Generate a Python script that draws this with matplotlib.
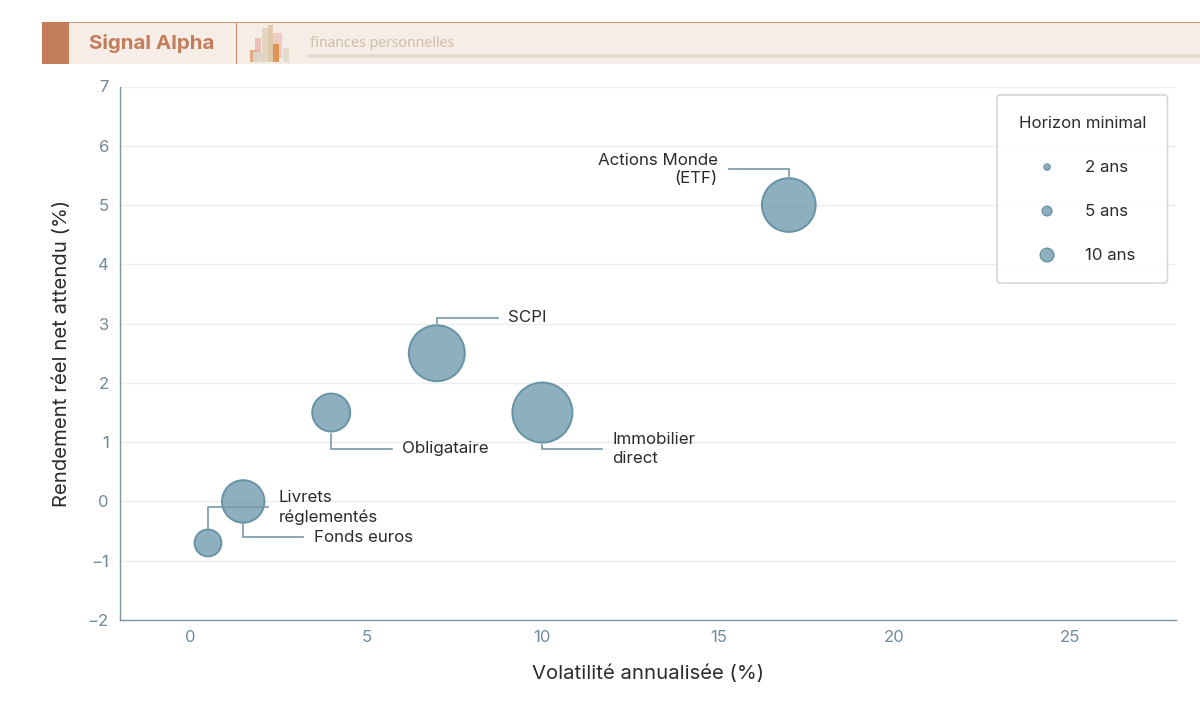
"""Rendement réel et volatilité des placements, taille des bulles selon l'horizon minimal"""

import matplotlib
matplotlib.use("Agg")
import matplotlib.pyplot as plt
from matplotlib.patches import FancyBboxPatch, Rectangle
from matplotlib.transforms import IdentityTransform

W, H = 1200, 721

# donnees
names = ["Livrets\nréglementés", "Fonds euros", "Obligataire", "SCPI", "Immobilier\ndirect", "Actions Monde\n(ETF)"]
volatility = [0.5, 1.5, 4, 7, 10, 17]
real_return = [-0.7, 0, 1.5, 2.5, 1.5, 5]
horizon = [2, 5, 4, 8.7, 10, 8]
legend_horizons = [2, 5, 10]
legend_labels = ["2 ans", "5 ans", "10 ans"]
x_ticks = [0, 5, 10, 15, 20, 25]
y_ticks = [-2, -1, 0, 1, 2, 3, 4, 5, 6, 7]

# coude des traits de rappel (decalages en pixels depuis le centre de la bulle)
leaders = [
    [(0, 13), (0, 36), (60, 36)],
    [(0, -22), (0, -36), (60, -36)],
    [(0, -21), (0, -36), (61, -36)],
    [(0, 30), (0, 35), (61, 35)],
    [(0, -32), (0, -36), (60, -36)],
    [(0, 29), (0, 36), (-60, 36)],
]
label_offsets = [(71, 35.5), (71, -36), (71, -36), (71, 36), (70, -36.5), (-71, 35.5)]

BLUE = "#5f8fa3"
EDGE = "#6793a6"
TICK = "#6f8b9c"
AXIS = "#7d94a3"
TEXT = "#2b2b2b"
FONT = ["Inter", "DejaVu Sans"]

plt.rcParams["font.family"] = FONT


def px_rect(fig, x0, y0, x1, y1, **kw):
    """rectangle en pixels de l'image (y vers le bas)"""
    fig.add_artist(Rectangle((x0 / W, 1 - y1 / H), (x1 - x0) / W, (y1 - y0) / H,
                             transform=fig.transFigure, lw=0, **kw))


def draw_header(fig):
    px_rect(fig, 42, 22, 1200, 64, color="#f7ede7")
    px_rect(fig, 42, 21.5, 1200, 22.5, color="#d39a80")
    px_rect(fig, 42, 22, 68.5, 64, color="#c47d5c")
    px_rect(fig, 236, 22, 236.8, 64, color="#cf8a6c")
    px_rect(fig, 307, 53.5, 1200, 57.5, color="#e9dacb")

    # petit logo en barres
    bars = [
        (250, 50, 258, 62, "#e2a27c", 0.9),
        (255, 38, 261, 56, "#e6aca6", 0.7),
        (253, 52, 262, 62, "#ddd8cc", 0.9),
        (262, 28, 268, 62, "#e3d5c1", 1.0),
        (268, 25, 273, 62, "#dcc6a4", 0.9),
        (273, 33, 282, 58, "#eab5ae", 0.6),
        (273, 44, 279, 62, "#dc8b3e", 0.85),
        (283, 48, 289, 62, "#e4dccd", 1.0),
    ]
    for x0, y0, x1, y1, c, a in bars:
        px_rect(fig, x0, y0, x1, y1, color=c, alpha=a)

    fig.text(89 / W, 1 - 43.5 / H, "Signal Alpha", color="#c47d5c", fontsize=14.8,
             fontweight="bold", family=FONT, va="center", ha="left")
    fig.text(310 / W, 1 - 43 / H, "finances personnelles", color="#cfc0a8", fontsize=11,
             family=["Lato", "DejaVu Sans"], va="center", ha="left")


def draw_legend(fig, ax):
    box = FancyBboxPatch((997, H - 283), 170.5, 188, boxstyle="round,pad=0,rounding_size=3",
                         transform=IdentityTransform(), fc="white", ec="#cfd5da", lw=1.2,
                         alpha=0.93, zorder=6)
    ax.add_artist(box)
    ax.text(1082.5, H - 123, "Horizon minimal", transform=IdentityTransform(), ha="center", va="center",
            fontsize=12.1, color=TEXT, zorder=7)
    for i, (h, lab) in enumerate(zip(legend_horizons, legend_labels)):
        y = H - (167 + 44 * i)
        ax.scatter([1047], [y], s=h * 9.5, transform=IdentityTransform(), color=BLUE, alpha=0.7,
                   linewidths=0, zorder=7)
        ax.scatter([1047], [y], s=h * 9.5, transform=IdentityTransform(), facecolors="none",
                   edgecolors=EDGE, linewidths=1, zorder=7)
        ax.text(1085, y, lab, transform=IdentityTransform(), va="center", ha="left",
                fontsize=12.1, color=TEXT, zorder=7)


fig = plt.figure(figsize=(W / 100, H / 100), dpi=100, facecolor="white")
ax = fig.add_axes([120 / W, 1 - 620 / H, (1176 - 120) / W, (620 - 86.5) / H])
ax.set_xlim(-2, 28)
ax.set_ylim(-2, 7)

ax.set_axisbelow(True)
ax.grid(axis="y", color="#eceef0", lw=1)
for side in ["top", "right"]:
    ax.spines[side].set_visible(False)
for side in ["left", "bottom"]:
    ax.spines[side].set_color(AXIS)
    ax.spines[side].set_linewidth(1)

ax.set_xticks(x_ticks)
ax.set_yticks(y_ticks)
ax.set_yticklabels([str(v).replace("-", "\u2212") for v in y_ticks])
ax.tick_params(length=0, labelsize=12, labelcolor=TICK)
ax.tick_params(axis="y", pad=8)
ax.tick_params(axis="x", pad=7)

ax.set_xlabel("Volatilité annualisée (%)", fontsize=14.6, color=TEXT, labelpad=14.5)
ax.set_ylabel("Rendement réel net attendu (%)", fontsize=14.6, color=TEXT, labelpad=12)

sizes = [h * 187 for h in horizon]
ax.scatter(volatility, real_return, s=sizes, color=BLUE, alpha=0.7, linewidths=0, zorder=3)
ax.scatter(volatility, real_return, s=sizes, facecolors="none", edgecolors=EDGE, linewidths=1.4, zorder=3)

# traits de rappel et libelles
for i, name in enumerate(names):
    cx, cy = ax.transData.transform((volatility[i], real_return[i]))
    xs = [cx + p[0] for p in leaders[i]]
    ys = [cy + p[1] for p in leaders[i]]
    ax.plot(xs, ys, transform=IdentityTransform(), color="#7898a7", lw=1.2, zorder=4,
            solid_joinstyle="miter", clip_on=False)
    dx, dy = label_offsets[i]
    ax.text(cx + dx, cy + dy, name, transform=IdentityTransform(), va="center",
            ha="right" if dx < 0 else "left", multialignment="right" if dx < 0 else "left",
            fontsize=12.2, color=TEXT, zorder=5, linespacing=1.3)

draw_legend(fig, ax)
draw_header(fig)

fig.savefig("out.png", dpi=100)
plt.close(fig)
